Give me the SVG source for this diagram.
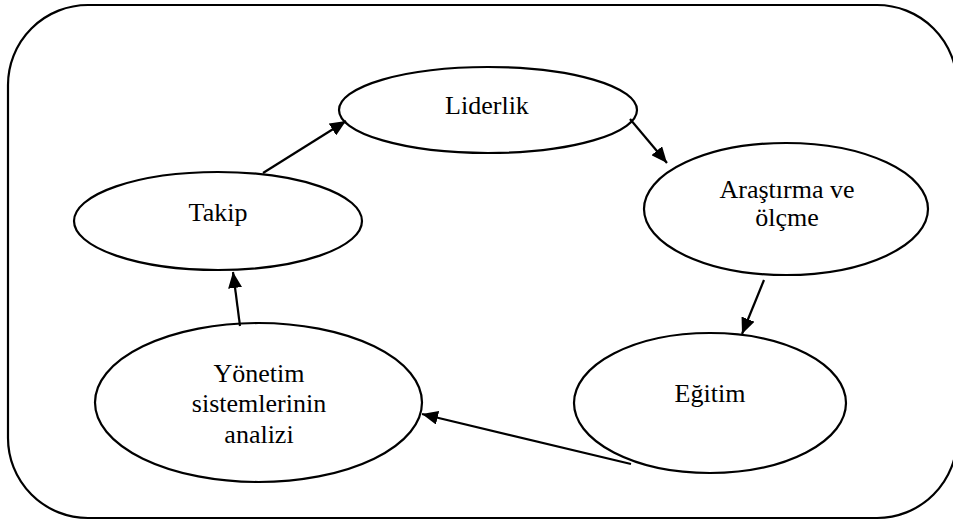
<svg xmlns="http://www.w3.org/2000/svg" width="953" height="524" viewBox="0 0 953 524">
<style>
.node ellipse{fill:#fff;stroke:#000;stroke-width:2.2}
.frame{fill:none;stroke:#000;stroke-width:2.2}
.lbl{font-size:26px;fill:#000;text-anchor:middle}
.edges line{stroke:#000;stroke-width:2.2;marker-end:url(#ah)}
</style>
<defs>
<marker id="ah" markerUnits="userSpaceOnUse" markerWidth="17" markerHeight="14" refX="16" refY="7" orient="auto">
<path d="M0,0 L16,7 L0,14 z" fill="#000"/>
</marker>
</defs>
<rect class="frame" x="8" y="5" width="949" height="513" rx="80" ry="80"/>
<g font-family="'Liberation Serif', 'DejaVu Serif', serif">
<g id="liderlik" class="node">
<ellipse cx="488" cy="110" rx="149" ry="43"/>
<text class="lbl" x="487" y="114">Liderlik</text>
</g>
<g id="arastirma" class="node">
<ellipse cx="786" cy="209" rx="142" ry="66"/>
<text class="lbl" x="787" y="198">Araştırma ve</text>
<text class="lbl" x="787" y="226">ölçme</text>
</g>
<g id="egitim" class="node">
<ellipse cx="710" cy="403" rx="136" ry="70"/>
<text class="lbl" x="710" y="402">Eğitim</text>
</g>
<g id="yonetim" class="node">
<ellipse cx="258.5" cy="402.5" rx="163.5" ry="79.5"/>
<text class="lbl" x="259" y="382">Yönetim</text>
<text class="lbl" x="259" y="412">sistemlerinin</text>
<text class="lbl" x="259" y="443">analizi</text>
</g>
<g id="takip" class="node">
<ellipse cx="218" cy="221" rx="144" ry="49"/>
<text class="lbl" x="218" y="221">Takip</text>
</g>
</g>
<g id="connectors" class="edges">
<line x1="263" y1="173" x2="346" y2="121"/>
<line x1="630" y1="119" x2="667" y2="163"/>
<line x1="764" y1="280" x2="742" y2="334"/>
<line x1="631" y1="464" x2="422" y2="414"/>
<line x1="240" y1="326" x2="233" y2="272"/>
</g>
</svg>
